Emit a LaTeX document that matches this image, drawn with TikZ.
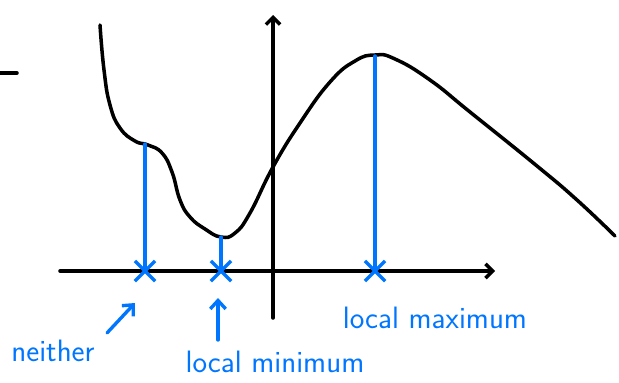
\documentclass[tikz,border=0pt]{standalone}
\usepackage{tikz}
\usetikzlibrary{arrows.meta, calc, positioning, shapes.misc}
\usepackage{xcolor}
\definecolor{penblue}{RGB}{0,118,255}

\tikzset{
    pen/.style={line width=2.5pt, line cap=round, line join=round},
    bluepen/.style={penblue, line width=2.4pt, line cap=round},
    mark x/.style={cross out, draw=penblue, line width=2.4pt, minimum size=12pt, inner sep=0pt},
    hand/.style={penblue, font=\sffamily\fontsize{22}{26}\selectfont, inner sep=0pt},
}

\begin{document}
\begin{tikzpicture}[x=0.025cm, y=-0.025cm]
    \useasboundingbox (0, 0) rectangle (619, 382);

    % 左边的小横线
    \coordinate (dashA) at (0, 73);
    \coordinate (dashB) at (17, 73);
    \draw[pen] (dashA) -- (dashB);

    % 坐标轴
    \coordinate (xstart) at (60, 271);
    \coordinate (xend) at (495, 271);
    \coordinate (ystart) at (273, 318);
    \coordinate (yend) at (273, 15);
    \draw[pen, -{Straight Barb[length=5pt, width=10pt]}] (xstart) -- (xend);
    \draw[pen, -{Straight Barb[length=5pt, width=10pt]}] (ystart) -- (yend);

    % 驻点
    \coordinate (shoulder) at (145, 144);
    \coordinate (minpt) at (221, 237);
    \coordinate (maxpt) at (375, 56);

    % 曲线
    \draw[pen] plot[smooth, tension=0.8] coordinates {
        (100, 25) (104, 70) (110, 105) (120, 128) (135, 141) (148, 145)
        (162, 153) (172, 172) (180, 200) (190, 217) (205, 229) (221, 237)
        (235, 233) (250, 213) (273, 167) (300, 123) (330, 82) (355, 61)
        (375, 55) (395, 59) (430, 80) (470, 112) (537, 166) (577, 200) (615, 236)
    };

    % x 轴上的标记
    \node[mark x] (xshoulder) at (145, 271) {};
    \node[mark x] (xmin) at (221, 271) {};
    \node[mark x] (xmax) at (375, 271) {};

    % 竖线
    \draw[bluepen] (shoulder) -- (xshoulder.center);
    \draw[bluepen] (minpt) -- (xmin.center);
    \draw[bluepen] (maxpt) -- (xmax.center);

    % 标注
    \node[hand] (neither) at (53, 351) {neither};
    \node[hand] (locmin) at (275, 362) {local minimum};
    \node[hand] (locmax) at (435, 318) {local maximum};

    \coordinate (neitherTail) at (107, 333);
    \coordinate (neitherTip) at (135, 303);
    \coordinate (minTail) at (218, 340);
    \coordinate (minTip) at (218, 298);
    \draw[bluepen, -{Straight Barb[length=6pt, width=11pt]}] (neitherTail) -- (neitherTip);
    \draw[bluepen, -{Straight Barb[length=6pt, width=11pt]}] (minTail) -- (minTip);
\end{tikzpicture}
\end{document}
